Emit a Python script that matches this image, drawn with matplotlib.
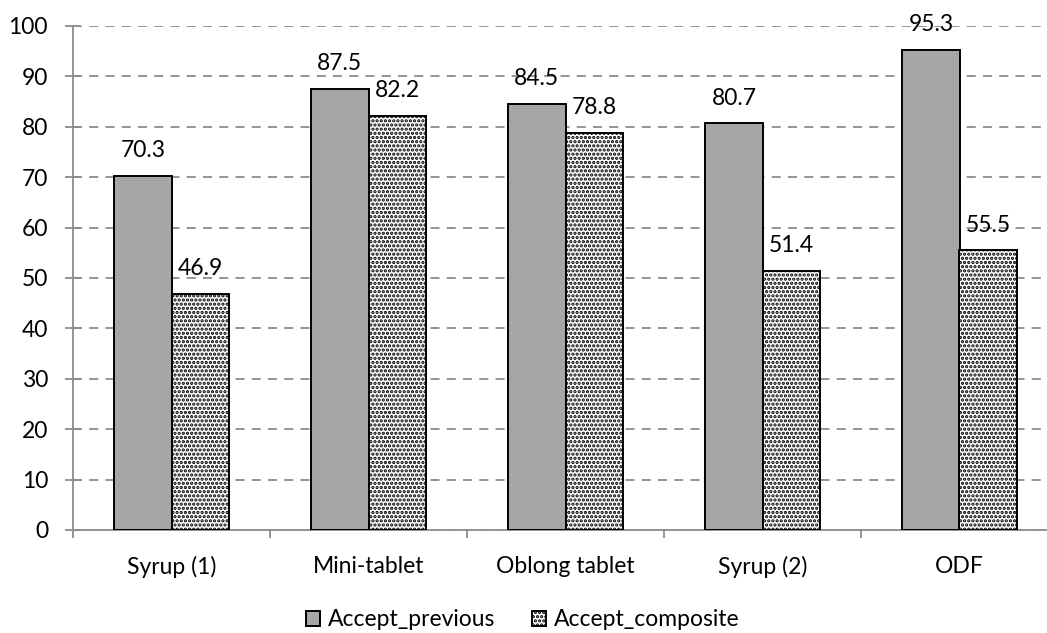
import matplotlib
matplotlib.use("Agg")
import matplotlib.pyplot as plt
import numpy as np

categories = ["Syrup (1)", "Mini-tablet", "Oblong tablet", "Syrup (2)", "ODF"]
accept_previous = [70.3, 87.5, 84.5, 80.7, 95.3]
accept_composite = [46.9, 82.2, 78.8, 51.4, 55.5]
series_names = ["Accept_previous", "Accept_composite"]

plt.rcParams['font.family'] = ['Lato', 'DejaVu Sans']
plt.rcParams['hatch.linewidth'] = 1.6

fig = plt.figure(figsize=(10.47, 6.33), dpi=100)
W, H = 1047, 633
x0, x1 = 73, 1058
y0, y1 = 530, 26
ax = fig.add_axes([x0 / W, 1 - y0 / H, (x1 - x0) / W, (y0 - y1) / H])

x = np.arange(len(categories))
bw = 0.29
b1 = ax.bar(x - bw / 2, accept_previous, bw, color='#a6a6a6', edgecolor='black',
            linewidth=1.4, label=series_names[0], zorder=3)
b2 = ax.bar(x + bw / 2, accept_composite, bw, color='white', edgecolor='black',
            hatch='....', linewidth=1.4, label=series_names[1], zorder=3)

fs = 16.5
for bars, vals in ((b1, accept_previous), (b2, accept_composite)):
    for r, v in zip(bars, vals):
        ax.annotate(f"{v:.1f}", (r.get_x() + r.get_width() / 2, v),
                    xytext=(0, 13.5), textcoords='offset points',
                    ha='center', va='baseline', fontsize=fs, zorder=4)

ax.set_xlim(-0.5, len(categories) - 0.5)
ax.set_ylim(0, 100)
ax.set_yticks(np.arange(0, 101, 10))
ax.yaxis.grid(True, linestyle=(0, (5, 4)), color='#8c8c8c', linewidth=1.3, zorder=0)
ax.set_axisbelow(True)

ax.set_xticks(x)
ax.set_xticklabels(categories, fontsize=fs)
ax.set_xticks(np.arange(-0.5, len(categories), 1), minor=True)
ax.tick_params(axis='x', which='major', length=0, pad=19)
ax.tick_params(axis='x', which='minor', length=6, width=1.3, color='#8c8c8c', direction='out')
ax.tick_params(axis='y', length=12, width=1.3, color='#8c8c8c', direction='inout',
               labelsize=fs, pad=12)

for s in ('top', 'right'):
    ax.spines[s].set_visible(False)
for s in ('left', 'bottom'):
    ax.spines[s].set_color('#8c8c8c')
    ax.spines[s].set_linewidth(1.3)

leg = fig.legend(handles=[b1, b2], labels=series_names, loc='center',
                 bbox_to_anchor=(523 / W, 1 - 620 / H), ncol=2, frameon=False,
                 fontsize=fs, handlelength=0.62, handleheight=0.62,
                 handletextpad=0.35, columnspacing=1.6, borderpad=0.1)

fig.savefig("out.png", dpi=100)
